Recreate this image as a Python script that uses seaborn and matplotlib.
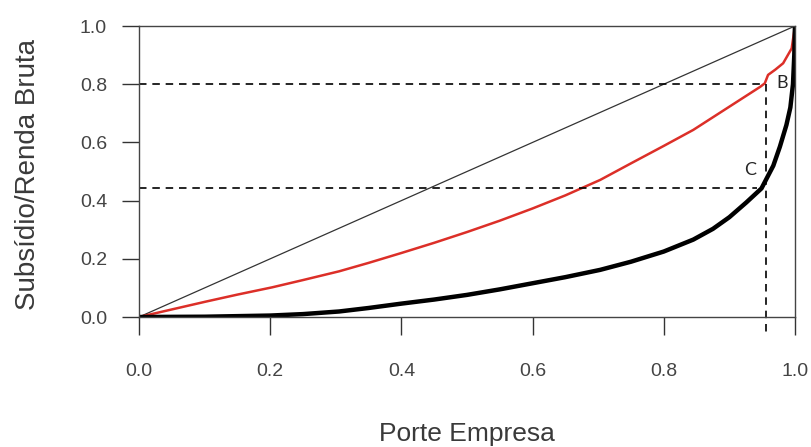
import pandas as pd
import seaborn as sns
import matplotlib.pyplot as plt

# curva vermelha (subsidio acumulado)
red_x = [0.0, 0.05, 0.102, 0.15, 0.203, 0.25, 0.305, 0.35, 0.40, 0.45, 0.50, 0.55,
         0.60, 0.65, 0.703, 0.75, 0.80, 0.845, 0.896, 0.947, 0.954, 0.959, 0.97,
         0.982, 0.995, 1.0]
red_y = [0.0, 0.026, 0.053, 0.077, 0.102, 0.127, 0.157, 0.186, 0.220, 0.255, 0.292, 0.331,
         0.373, 0.418, 0.471, 0.528, 0.588, 0.643, 0.717, 0.791, 0.803, 0.832, 0.850,
         0.872, 0.923, 1.0]

# curva preta grossa (renda bruta acumulada)
blk_x = [0.0, 0.1, 0.2, 0.25, 0.305, 0.35, 0.4, 0.45, 0.5, 0.55, 0.6, 0.65, 0.703,
         0.75, 0.8, 0.845, 0.875, 0.9, 0.926, 0.949, 0.967, 0.977, 0.987, 0.993,
         0.997, 0.999, 1.0]
blk_y = [0.0, 0.001, 0.005, 0.010, 0.019, 0.031, 0.046, 0.060, 0.076, 0.095, 0.116, 0.137,
         0.162, 0.190, 0.225, 0.266, 0.303, 0.343, 0.394, 0.442, 0.520, 0.585, 0.660,
         0.720, 0.800, 0.900, 1.0]

# linha de igualdade
diag_x = [0.0, 1.0]
diag_y = [0.0, 1.0]

# pontos de referencia B e C
ref_x = 0.956
ref_b = 0.80
ref_c = 0.442

ticks = [0.0, 0.2, 0.4, 0.6, 0.8, 1.0]
tick_labels = ['0.0', '0.2', '0.4', '0.6', '0.8', '1.0']

sns.set_theme(style="ticks")
plt.rcParams['font.family'] = ['Liberation Sans', 'DejaVu Sans']

fig = plt.figure(figsize=(8.12, 4.47), dpi=100)
ax = fig.add_axes([0.1712, 0.2908, 0.8078, 0.651])

df_red = pd.DataFrame({'x': red_x, 'y': red_y})
df_blk = pd.DataFrame({'x': blk_x, 'y': blk_y})
df_diag = pd.DataFrame({'x': diag_x, 'y': diag_y})

sns.lineplot(data=df_diag, x='x', y='y', color='#333333', linewidth=0.9,
             estimator=None, sort=False, ax=ax)
sns.lineplot(data=df_red, x='x', y='y', color='#dc2f28', linewidth=1.8,
             estimator=None, sort=False, ax=ax)
sns.lineplot(data=df_blk, x='x', y='y', color='black', linewidth=3.2,
             estimator=None, sort=False, ax=ax)

dash = (0, (4.5, 3.5))
ax.plot([0.0, 0.947], [ref_b, ref_b], color='black', linewidth=1.2, linestyle=dash)
ax.plot([0.0, 0.942], [ref_c, ref_c], color='black', linewidth=1.2, linestyle=dash)
ax.plot([ref_x, ref_x], [ref_b, -0.062], color='black', linewidth=1.2,
        linestyle=dash, clip_on=False)

ax.text(0.981, 0.803, 'B', fontsize=13, family=['Lato', 'DejaVu Sans'],
        ha='center', va='center')
ax.text(0.931, 0.505, 'C', fontsize=13, family=['Lato', 'DejaVu Sans'],
        ha='center', va='center')

ax.set_xlim(0, 1)
ax.set_ylim(0, 1)
ax.set_xticks(ticks)
ax.set_xticklabels(tick_labels)
ax.set_yticks(ticks)
ax.set_yticklabels(tick_labels)

for lab in ax.get_xticklabels() + ax.get_yticklabels():
    lab.set_fontsize(14)
    lab.set_color('#444444')

ax.tick_params(axis='x', length=13, width=1, pad=20, color='#333333')
ax.tick_params(axis='y', length=12, width=1, pad=11, color='#333333')

for s in ax.spines.values():
    s.set_color('#444444')
    s.set_linewidth(1)

ax.set_xlabel('Porte Empresa', fontsize=19, color='#3a3a3a')
ax.set_ylabel('Subsídio/Renda Bruta', fontsize=20, color='#3a3a3a')
ax.xaxis.set_label_coords(0.5, -0.36)
ax.yaxis.set_label_coords(-0.15, 0.49)

plt.savefig('out.png', dpi=100)
